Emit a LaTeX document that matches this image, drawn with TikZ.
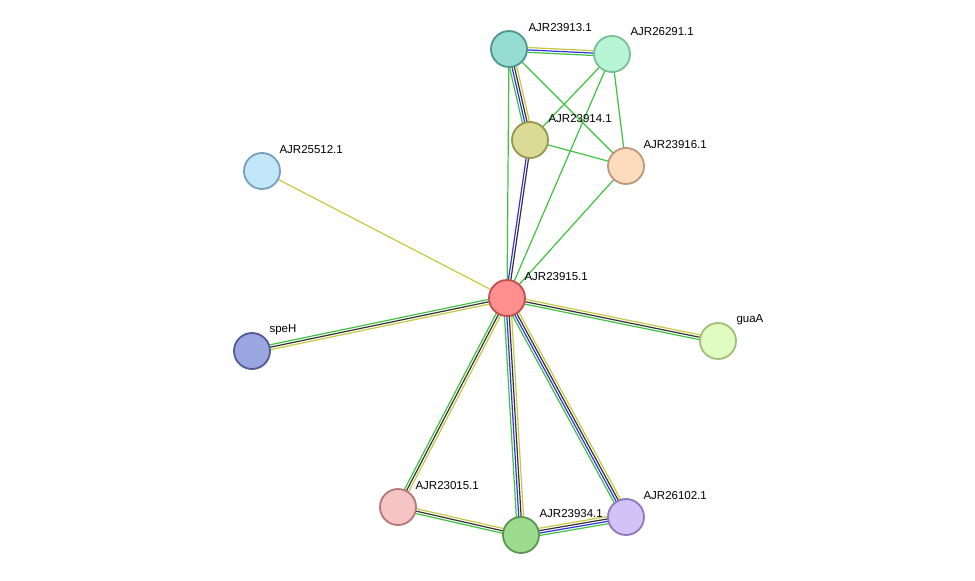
\documentclass[tikz,border=0pt]{standalone}
\usepackage{fontspec}
\setmainfont{Liberation Sans}
\usetikzlibrary{calc}
\definecolor{egreen}{HTML}{3FC23F}
\definecolor{eblue}{HTML}{3333E6}
\definecolor{eblack}{HTML}{333333}
\definecolor{eyellow}{HTML}{C6C940}
\tikzset{
  prot/.style = {circle, draw, line width = 1.8pt, minimum size = 36pt, inner sep = 0pt},
  lab/.style = {font = \fontsize{11.5pt}{12pt}\selectfont, anchor = west},
  edg/.style = {line width = 1.2pt}
}
% one coloured strand of an edge, offset sideways
\newcommand{\strand}[4]{\draw[edg, #4] ($(#1)!#3!90:(#2)$) -- ($(#2)!#3!-90:(#1)$);}
\begin{document}
\begin{tikzpicture}[x = 1pt, y = -1pt]
  \useasboundingbox (0,0) rectangle (975,581);

  % node positions
  \coordinate (p913) at (509,49);
  \coordinate (p291) at (612,54);
  \coordinate (p914) at (530,140);
  \coordinate (p916) at (626,166);
  \coordinate (p512) at (262,171);
  \coordinate (p915) at (507,298);
  \coordinate (pspe) at (252,351);
  \coordinate (pgua) at (718,341);
  \coordinate (p015) at (398,507);
  \coordinate (p934) at (521,535);
  \coordinate (p102) at (626,517);

  % edges
  \strand{p913}{p291}{-2.4pt}{egreen}
  \strand{p913}{p291}{0pt}{eblue}
  \strand{p913}{p291}{2.4pt}{eyellow}
  \strand{p913}{p914}{-3.6pt}{egreen}
  \strand{p913}{p914}{-1.2pt}{eblue}
  \strand{p913}{p914}{1.2pt}{eblack}
  \strand{p913}{p914}{3.6pt}{eyellow}
  \strand{p913}{p915}{0pt}{egreen}
  \strand{p913}{p916}{0pt}{egreen}
  \strand{p291}{p914}{0pt}{egreen}
  \strand{p291}{p916}{0pt}{egreen}
  \strand{p291}{p915}{0pt}{egreen}
  \strand{p914}{p916}{0pt}{egreen}
  \strand{p914}{p915}{-1.2pt}{eblue}
  \strand{p914}{p915}{1.2pt}{eblack}
  \strand{p916}{p915}{0pt}{egreen}
  \strand{p512}{p915}{0pt}{eyellow}
  \foreach \t in {pspe, pgua, p015} {
    \strand{p915}{\t}{-2.4pt}{egreen}
    \strand{p915}{\t}{0pt}{eblack}
    \strand{p915}{\t}{2.4pt}{eyellow}
  }
  \foreach \t in {p934, p102} {
    \strand{p915}{\t}{-3.6pt}{egreen}
    \strand{p915}{\t}{-1.2pt}{eblue}
    \strand{p915}{\t}{1.2pt}{eblack}
    \strand{p915}{\t}{3.6pt}{eyellow}
  }
  \strand{p015}{p934}{-2.4pt}{egreen}
  \strand{p015}{p934}{0pt}{eblack}
  \strand{p015}{p934}{2.4pt}{eyellow}
  \strand{p934}{p102}{-3.6pt}{egreen}
  \strand{p934}{p102}{-1.2pt}{eblue}
  \strand{p934}{p102}{1.2pt}{eblack}
  \strand{p934}{p102}{3.6pt}{eyellow}

  % proteins
  \node[prot, fill = {rgb,255:red,149;green,221;blue,211}, draw = {rgb,255:red,80;green,150;blue,140}] (n913) at (p913) {};
  \node[prot, fill = {rgb,255:red,184;green,245;blue,213}, draw = {rgb,255:red,120;green,190;blue,150}] (n291) at (p291) {};
  \node[prot, fill = {rgb,255:red,220;green,219;blue,150}, draw = {rgb,255:red,150;green,150;blue,80}] (n914) at (p914) {};
  \node[prot, fill = {rgb,255:red,253;green,220;blue,189}, draw = {rgb,255:red,190;green,150;blue,120}] (n916) at (p916) {};
  \node[prot, fill = {rgb,255:red,194;green,230;blue,250}, draw = {rgb,255:red,120;green,160;blue,190}] (n512) at (p512) {};
  \node[prot, fill = {rgb,255:red,255;green,142;blue,142}, draw = {rgb,255:red,190;green,80;blue,80}] (n915) at (p915) {};
  \node[prot, fill = {rgb,255:red,154;green,166;blue,224}, draw = {rgb,255:red,80;green,90;blue,150}] (nspe) at (pspe) {};
  \node[prot, fill = {rgb,255:red,224;green,252;blue,192}, draw = {rgb,255:red,160;green,190;blue,120}] (ngua) at (pgua) {};
  \node[prot, fill = {rgb,255:red,245;green,197;blue,197}, draw = {rgb,255:red,180;green,120;blue,120}] (n015) at (p015) {};
  \node[prot, fill = {rgb,255:red,157;green,219;blue,142}, draw = {rgb,255:red,90;green,150;blue,80}] (n934) at (p934) {};
  \node[prot, fill = {rgb,255:red,210;green,194;blue,245}, draw = {rgb,255:red,140;green,120;blue,190}] (n102) at (p102) {};

  % labels
  \node[lab] at (525,28) {AJR23913.1};
  \node[lab] at (627,32) {AJR26291.1};
  \node[lab] at (545,119) {AJR23914.1};
  \node[lab] at (640,145) {AJR23916.1};
  \node[lab] at (276,150) {AJR25512.1};
  \node[lab] at (521,277) {AJR23915.1};
  \node[lab] at (266,330) {speH};
  \node[lab] at (733,320) {guaA};
  \node[lab] at (412,486) {AJR23015.1};
  \node[lab] at (536,514) {AJR23934.1};
  \node[lab] at (640,496) {AJR26102.1};
\end{tikzpicture}
\end{document}
